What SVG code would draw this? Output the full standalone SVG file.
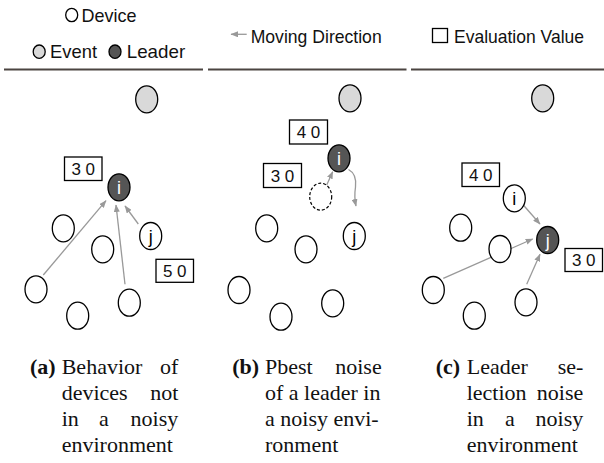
<svg xmlns="http://www.w3.org/2000/svg" width="604" height="463" viewBox="0 0 604 463">
<style>
.dev{fill:#fff;stroke:#000;stroke-width:1.3}
.evt{fill:#d9d9d9;stroke:#000;stroke-width:1.3}
.ldr{fill:#555;stroke:#000;stroke-width:1.3}
.dash{fill:#fff;stroke:#000;stroke-width:1.2;stroke-dasharray:3 2}
.box{fill:#fff;stroke:#000;stroke-width:1.3}
.leg{font-size:19px;fill:#111}
.val{font-size:17px;fill:#111;text-anchor:middle}
.lbl{font-size:18px;text-anchor:middle}
.cap{font-size:22px;fill:#111}
.arr{stroke:#999;stroke-width:1.3;fill:none;marker-end:url(#ah)}
.rule{stroke:#4b4441;stroke-width:2}
</style>
<defs>
<marker id="ah" markerUnits="userSpaceOnUse" markerWidth="8" markerHeight="6" refX="7" refY="3" orient="auto">
<path d="M0,0 L7.5,3 L0,6 z" fill="#999"/>
</marker>
</defs>

<g id="legend" font-family="Liberation Sans, Arial, sans-serif">
<ellipse cx="71.7" cy="15" rx="6" ry="6.7" class="dev"/>
<text x="81.5" y="21.7" class="leg" textLength="55" lengthAdjust="spacingAndGlyphs">Device</text>
<ellipse cx="39.2" cy="51.7" rx="6" ry="6.7" class="evt"/>
<text x="50" y="58.3" class="leg" textLength="47" lengthAdjust="spacingAndGlyphs">Event</text>
<ellipse cx="115" cy="51.7" rx="6" ry="6.7" class="ldr"/>
<text x="126.7" y="58.3" class="leg" textLength="58.5" lengthAdjust="spacingAndGlyphs">Leader</text>
<line x1="246.7" y1="34.3" x2="231" y2="34.3" class="arr"/>
<text x="250.7" y="42.7" class="leg" textLength="131" lengthAdjust="spacingAndGlyphs">Moving Direction</text>
<rect x="432.5" y="28.5" width="15" height="14" class="box"/>
<text x="454" y="42.7" class="leg" textLength="130" lengthAdjust="spacingAndGlyphs">Evaluation Value</text>
<line x1="4" y1="69.5" x2="203" y2="69.5" class="rule"/>
<line x1="208" y1="69.5" x2="406.5" y2="69.5" class="rule"/>
<line x1="411" y1="69.5" x2="604" y2="69.5" class="rule"/>
</g>

<g id="connectors">
<line x1="43.3" y1="275" x2="106" y2="200.7" class="arr"/>
<line x1="125" y1="284.3" x2="116" y2="205" class="arr"/>
<line x1="138.3" y1="224" x2="125" y2="206" class="arr"/>
<line x1="326.7" y1="185" x2="332.7" y2="171.7" class="arr"/>
<path d="M348.5,169.5 Q357,174 355.5,187 Q354,197 356,206" class="arr"/>
<line x1="523.3" y1="205" x2="540" y2="224" class="arr"/>
<line x1="443.3" y1="278.3" x2="532.7" y2="239" class="arr"/>
<line x1="526.7" y1="284.3" x2="540" y2="254.3" class="arr"/>
</g>

<g font-family="Liberation Sans, Arial, sans-serif">
<!-- Panel (a) -->
<g id="a-event"><ellipse cx="146.7" cy="99.3" rx="11" ry="13.5" class="evt"/></g>
<g id="a-val30"><rect x="64.5" y="157" width="37.5" height="23.5" class="box"/><text x="83.2" y="175" class="val">3 0</text></g>
<g id="a-leader-i"><ellipse cx="119" cy="187.3" rx="11" ry="13.5" class="ldr"/><text x="119" y="193.8" class="lbl" fill="#fff">i</text></g>
<g id="a-dev1"><ellipse cx="63.3" cy="228.3" rx="11" ry="13.5" class="dev"/></g>
<g id="a-dev2"><ellipse cx="102.7" cy="249.3" rx="11" ry="13.5" class="dev"/></g>
<g id="a-dev-j"><ellipse cx="150.7" cy="236" rx="11" ry="13.5" class="dev"/><text x="150.7" y="242.5" class="lbl" fill="#000">j</text></g>
<g id="a-val50"><rect x="156" y="259.3" width="37.5" height="23" class="box"/><text x="174.7" y="277" class="val">5 0</text></g>
<g id="a-dev3"><ellipse cx="36" cy="289.3" rx="11" ry="13.5" class="dev"/></g>
<g id="a-dev4"><ellipse cx="77.7" cy="315.7" rx="11" ry="13.5" class="dev"/></g>
<g id="a-dev5"><ellipse cx="129.3" cy="302.7" rx="11" ry="13.5" class="dev"/></g>

<!-- Panel (b) -->
<g id="b-event"><ellipse cx="350" cy="98.3" rx="11" ry="13.5" class="evt"/></g>
<g id="b-val40"><rect x="289.5" y="120" width="38" height="24" class="box"/><text x="308.5" y="138.3" class="val">4 0</text></g>
<g id="b-leader-i"><ellipse cx="339" cy="158.3" rx="11" ry="13.5" class="ldr"/><text x="339" y="164.8" class="lbl" fill="#fff">i</text></g>
<g id="b-val30"><rect x="263.5" y="163.5" width="38" height="24" class="box"/><text x="282.5" y="181.8" class="val">3 0</text></g>
<g id="b-old"><ellipse cx="320.7" cy="196.7" rx="11" ry="13.5" class="dash"/></g>
<g id="b-dev1"><ellipse cx="266.7" cy="228.3" rx="11" ry="13.5" class="dev"/></g>
<g id="b-dev2"><ellipse cx="306" cy="249.3" rx="11" ry="13.5" class="dev"/></g>
<g id="b-dev-j"><ellipse cx="354.3" cy="236" rx="11" ry="13.5" class="dev"/><text x="354.3" y="242.5" class="lbl" fill="#000">j</text></g>
<g id="b-dev3"><ellipse cx="239" cy="290" rx="11" ry="13.5" class="dev"/></g>
<g id="b-dev4"><ellipse cx="281" cy="316.7" rx="11" ry="13.5" class="dev"/></g>
<g id="b-dev5"><ellipse cx="332.7" cy="303.3" rx="11" ry="13.5" class="dev"/></g>

<!-- Panel (c) -->
<g id="c-event"><ellipse cx="542.7" cy="98.3" rx="11" ry="13.5" class="evt"/></g>
<g id="c-val40"><rect x="462" y="163" width="37.5" height="23.5" class="box"/><text x="480.7" y="181" class="val">4 0</text></g>
<g id="c-dev-i"><ellipse cx="514.3" cy="198.3" rx="11" ry="13.5" class="dev"/><text x="514.3" y="204.8" class="lbl" fill="#000">i</text></g>
<g id="c-leader-j"><ellipse cx="547.7" cy="240" rx="11" ry="13.5" class="ldr"/><text x="547.7" y="246.5" class="lbl" fill="#fff">j</text></g>
<g id="c-val30"><rect x="565" y="248.5" width="37.5" height="23" class="box"/><text x="583.7" y="266.2" class="val">3 0</text></g>
<g id="c-dev1"><ellipse cx="460.7" cy="227.7" rx="11" ry="13.5" class="dev"/></g>
<g id="c-dev2"><ellipse cx="500" cy="249" rx="11" ry="13.5" class="dev"/></g>
<g id="c-dev3"><ellipse cx="433.3" cy="290" rx="11" ry="13.5" class="dev"/></g>
<g id="c-dev4"><ellipse cx="474.3" cy="315.7" rx="11" ry="13.5" class="dev"/></g>
<g id="c-dev5"><ellipse cx="526" cy="302.3" rx="11" ry="13.5" class="dev"/></g>
</g>

<g id="captions" font-family="Liberation Serif, Times New Roman, serif">
<text class="cap" y="374.3"><tspan x="30" font-weight="bold">(a)</tspan><tspan x="61.7">Behavior</tspan><tspan x="178.3" text-anchor="end">of</tspan></text>
<text class="cap" y="400"><tspan x="61.7">devices</tspan><tspan x="178.3" text-anchor="end">not</tspan></text>
<text class="cap" y="425.7"><tspan x="61.7">in</tspan><tspan x="99">a</tspan><tspan x="178.3" text-anchor="end">noisy</tspan></text>
<text class="cap" y="451.7" x="61.7">environment</text>

<text class="cap" y="374.3"><tspan x="232.3" font-weight="bold">(b)</tspan><tspan x="265">Pbest</tspan><tspan x="381.7" text-anchor="end">noise</tspan></text>
<text class="cap" y="400" x="265">of a leader in</text>
<text class="cap" y="425.7" x="265">a noisy envi-</text>
<text class="cap" y="451.7" x="265">ronment</text>

<text class="cap" y="374.3"><tspan x="435.7" font-weight="bold">(c)</tspan><tspan x="466.7">Leader</tspan><tspan x="583.3" text-anchor="end">se-</tspan></text>
<text class="cap" y="400"><tspan x="466.7">lection</tspan><tspan x="583.3" text-anchor="end">noise</tspan></text>
<text class="cap" y="425.7"><tspan x="466.7">in</tspan><tspan x="505">a</tspan><tspan x="583.3" text-anchor="end">noisy</tspan></text>
<text class="cap" y="451.7" x="466.7">environment</text>
</g>
</svg>
